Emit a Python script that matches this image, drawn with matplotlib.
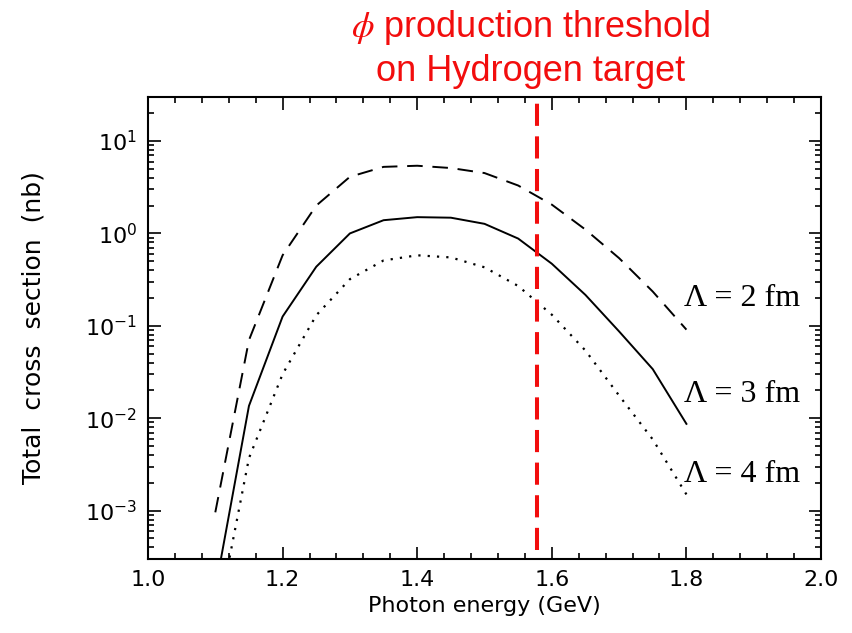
import numpy as np
import matplotlib
matplotlib.use('Agg')
import matplotlib.pyplot as plt
from matplotlib.ticker import MultipleLocator, LogLocator, NullFormatter

# photon energy grid (GeV)
energy = [1.10, 1.15, 1.20, 1.25, 1.30, 1.35, 1.40, 1.45, 1.50,
          1.55, 1.60, 1.65, 1.70, 1.75, 1.80]

# total cross section (nb) for three cutoff values
sigma_2fm = [9.6e-4, 0.07, 0.58, 2.0, 4.1, 5.25, 5.4, 5.1, 4.5,
             3.3, 2.05, 1.1, 0.54, 0.235, 0.091]
sigma_3fm = [1.4e-4, 0.0136, 0.126, 0.436, 1.0, 1.39, 1.5, 1.48, 1.27,
             0.88, 0.47, 0.216, 0.087, 0.034, 0.0087]
sigma_4fm = [5e-5, 0.0037, 0.030, 0.13, 0.32, 0.51, 0.58, 0.55, 0.43,
             0.27, 0.132, 0.054, 0.0176, 0.0059, 0.0015]

labels = ['Λ = 2 fm', 'Λ = 3 fm', 'Λ = 4 fm']
label_y = [0.2, 0.018, 0.00245]
threshold = 1.578

fig = plt.figure(figsize=(8.53, 6.33), dpi=100)
ax = fig.add_axes([0.1735, 0.1169, 0.789, 0.730])

ax.plot(energy, sigma_2fm, color='black', lw=1.4, dashes=(8, 5))
ax.plot(energy, sigma_3fm, color='black', lw=1.4)
ax.plot(energy, sigma_4fm, color='black', lw=1.6, dashes=(1, 3.2))

ax.set_yscale('log')
ax.set_xlim(1.0, 2.0)
ax.set_ylim(3e-4, 3e1)

ax.axvline(threshold, ymin=0.02, ymax=0.987, color='#f20d0d', lw=2.9,
           dashes=(5.5, 2.6))

for lab, yv in zip(labels, label_y):
    ax.text(1.797, yv, lab, family='Liberation Serif', fontsize=23,
            ha='left', va='center')

ax.xaxis.set_major_locator(MultipleLocator(0.2))
ax.xaxis.set_minor_locator(MultipleLocator(0.04))
ax.yaxis.set_major_locator(LogLocator(base=10, numticks=10))
ax.yaxis.set_minor_locator(LogLocator(base=10, subs=np.arange(2, 10), numticks=20))
ax.yaxis.set_minor_formatter(NullFormatter())

ax.tick_params(which='both', direction='in', top=True, right=True,
               labelsize=16, width=1.2)
ax.tick_params(which='major', length=9, pad=8)
ax.tick_params(which='minor', length=4.5)
for sp in ax.spines.values():
    sp.set_linewidth(1.5)

ax.set_xlabel('Photon energy (GeV)', fontsize=16, labelpad=4)
ax.set_ylabel('Total  cross  section  (nb)', fontsize=18)
ax.yaxis.set_label_coords(-0.153, 0.5)

fig.text(0.622, 0.957, r'$\phi$ production threshold', color='#f20d0d',
         family='Liberation Sans', math_fontfamily='stix', fontsize=26,
         ha='center', va='center')
fig.text(0.622, 0.887, 'on Hydrogen target', color='#f20d0d',
         family='Liberation Sans', fontsize=26, ha='center', va='center')

fig.savefig('out.png', dpi=100)
